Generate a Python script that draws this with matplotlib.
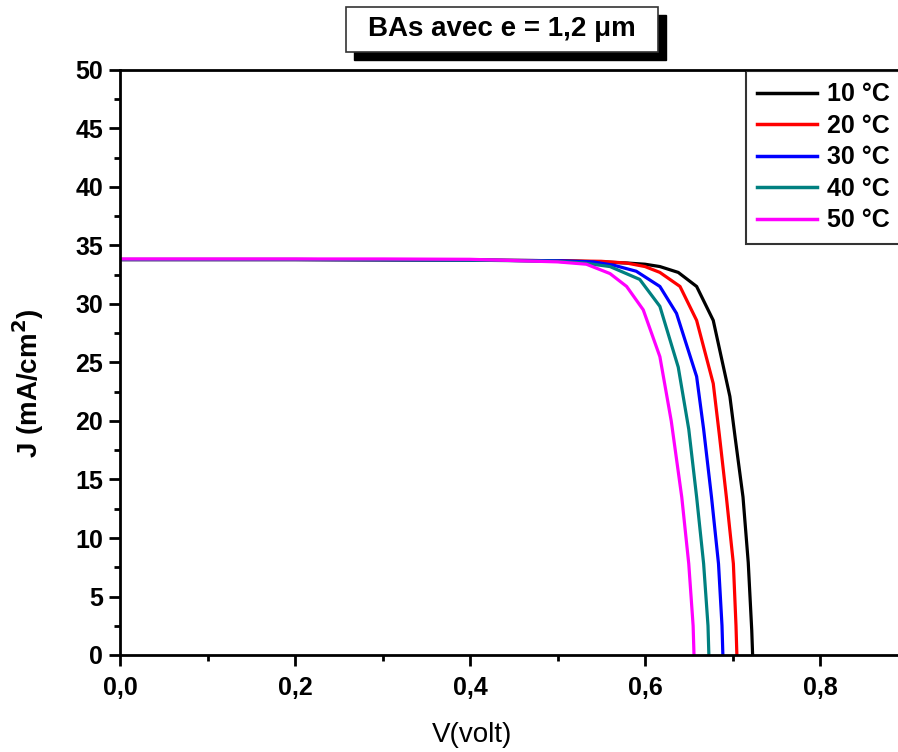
import numpy as np
import matplotlib
matplotlib.use("Agg")
import matplotlib.pyplot as plt
from matplotlib.patches import Rectangle

plt.rcParams['font.family'] = ['Liberation Sans', 'DejaVu Sans']

# J-V curves (V in volt, J in mA/cm2)
v_10 = [0.0, 0.1, 0.2, 0.3, 0.4, 0.5, 0.55, 0.58, 0.60, 0.617, 0.638, 0.659, 0.678, 0.697, 0.703, 0.712, 0.718, 0.722, 0.723]
j_10 = [33.8, 33.8, 33.8, 33.78, 33.75, 33.7, 33.6, 33.5, 33.4, 33.2, 32.7, 31.5, 28.6, 22.1, 18.6, 13.5, 7.9, 2.1, 0.0]

v_20 = [0.0, 0.1, 0.2, 0.3, 0.4, 0.5, 0.55, 0.579, 0.60, 0.617, 0.640, 0.659, 0.678, 0.685, 0.693, 0.701, 0.704, 0.705]
j_20 = [33.8, 33.8, 33.8, 33.78, 33.75, 33.7, 33.65, 33.5, 33.2, 32.7, 31.5, 28.6, 23.2, 18.8, 13.5, 7.8, 2.5, 0.0]

v_30 = [0.0, 0.1, 0.2, 0.3, 0.4, 0.5, 0.541, 0.565, 0.590, 0.617, 0.636, 0.659, 0.667, 0.676, 0.684, 0.688, 0.689]
j_30 = [33.8, 33.8, 33.8, 33.78, 33.75, 33.7, 33.6, 33.3, 32.8, 31.5, 29.2, 23.8, 19.3, 13.5, 7.8, 2.5, 0.0]

v_40 = [0.0, 0.1, 0.2, 0.3, 0.4, 0.5, 0.53, 0.56, 0.594, 0.617, 0.638, 0.650, 0.659, 0.667, 0.672, 0.673]
j_40 = [33.8, 33.8, 33.8, 33.78, 33.75, 33.65, 33.5, 33.2, 32.1, 29.8, 24.6, 19.3, 13.5, 7.8, 2.5, 0.0]

v_50 = [0.0, 0.1, 0.2, 0.3, 0.4, 0.5, 0.533, 0.56, 0.579, 0.598, 0.617, 0.630, 0.642, 0.650, 0.655, 0.656]
j_50 = [33.85, 33.85, 33.85, 33.85, 33.82, 33.6, 33.4, 32.6, 31.5, 29.5, 25.5, 20.0, 13.5, 7.8, 2.5, 0.0]

labels = ['10 °C', '20 °C', '30 °C', '40 °C', '50 °C']
colors = ['black', '#ff0000', '#0000ff', '#008080', '#ff00ff']

x_ticks = [0.0, 0.2, 0.4, 0.6, 0.8]
x_ticklabels = ['0,0', '0,2', '0,4', '0,6', '0,8']
y_ticks = [0, 5, 10, 15, 20, 25, 30, 35, 40, 45, 50]

W, H = 898, 752
fig = plt.figure(figsize=(W / 100, H / 100), dpi=100)

# axis goes past the right edge of the picture (cropped like the original)
left, right_px, top, bottom = 120, 120 + 0.9 * 875, 70, 655
ax = fig.add_axes([left / W, 1 - bottom / H, (right_px - left) / W, (bottom - top) / H])
aw, ah = right_px - left, bottom - top

curves = [(v_10, j_10), (v_20, j_20), (v_30, j_30), (v_40, j_40), (v_50, j_50)]
for (v, j), lab, c in zip(curves, labels, colors):
    ax.plot(v, j, color=c, lw=2.3, label=lab)

ax.set_xlim(0, 0.9)
ax.set_ylim(0, 50)
ax.set_xticks(x_ticks)
ax.set_xticklabels(x_ticklabels)
ax.set_xticks(np.arange(0.1, 0.9, 0.2), minor=True)
ax.set_yticks(y_ticks)
ax.set_yticks(np.arange(2.5, 50, 5), minor=True)

for s in ax.spines.values():
    s.set_linewidth(2.0)
ax.tick_params(which='major', direction='out', length=8, width=2.0, labelsize=18, pad=4)
ax.tick_params(which='minor', direction='out', length=4, width=2.0)
ax.tick_params(axis='x', pad=7)
for t in ax.get_xticklabels() + ax.get_yticklabels():
    t.set_fontweight('bold')

ax.set_xlabel('V(volt)', fontsize=20)
ax.xaxis.set_label_coords((472 - left) / aw, (bottom - 722) / ah)
ax.set_ylabel('J (mA/cm$\\mathbf{^2}$)', fontsize=20, fontweight='bold')
ax.yaxis.set_label_coords((46 - left) / aw, (bottom - 383) / ah)

leg = ax.legend(loc='upper left', bbox_to_anchor=(746 / W, 1 - 71 / H), bbox_transform=fig.transFigure,
                prop={'weight': 'bold', 'size': 18}, frameon=True, fancybox=False,
                handlelength=2.4, handletextpad=0.4, labelspacing=0.3, borderpad=0.45,
                borderaxespad=0)
leg.get_frame().set_edgecolor('black')
leg.get_frame().set_linewidth(1.5)
for ln in leg.get_lines():
    ln.set_linewidth(2.5)

# title box with a drop shadow
bx0, by0, bx1, by1 = 346, 7, 658, 52
sh = 8
fig.patches.append(Rectangle(((bx0 + sh) / W, 1 - (by1 + sh) / H), (bx1 - bx0) / W, (by1 - by0) / H,
                             transform=fig.transFigure, facecolor='black', edgecolor='black', zorder=1))
fig.patches.append(Rectangle((bx0 / W, 1 - by1 / H), (bx1 - bx0) / W, (by1 - by0) / H,
                             transform=fig.transFigure, facecolor='white', edgecolor='#333333', lw=1.2, zorder=2))
fig.text((bx0 + bx1) / 2 / W, 1 - (by0 + by1) / 2 / H, 'BAs avec e = 1,2 \u03bcm',
         ha='center', va='center', fontsize=20, fontweight='bold', zorder=3)

fig.savefig('out.png', dpi=100)
